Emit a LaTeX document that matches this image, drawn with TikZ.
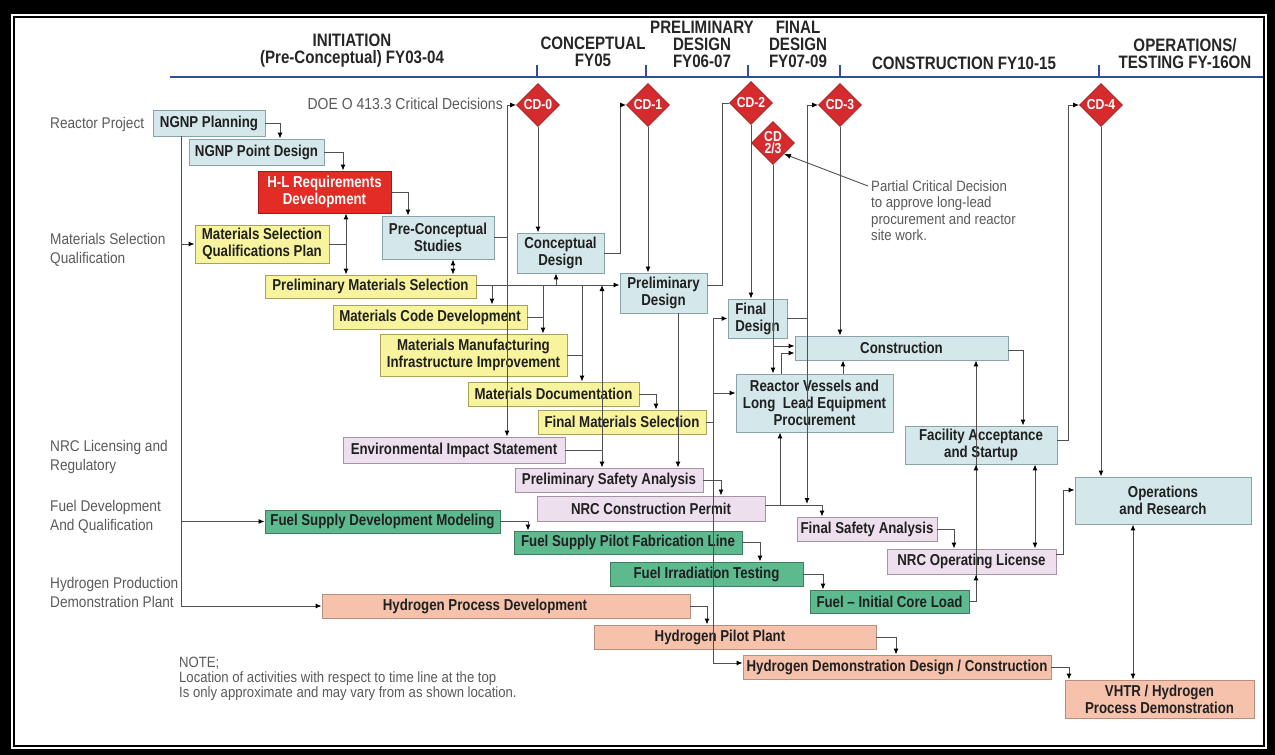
\documentclass[tikz,border=0pt]{standalone}
\usepackage{fontspec}
\usetikzlibrary{arrows.meta,shapes.geometric,calc}
\newfontfamily\nar[FakeStretch=0.88]{Liberation Sans}
\newfontfamily\narb[FakeStretch=0.84]{Liberation Sans}
\definecolor{bfill}{HTML}{D4E7EA}\definecolor{bdraw}{HTML}{8AA3A8}
\definecolor{yfill}{HTML}{F8F49E}\definecolor{ydraw}{HTML}{A8A25A}
\definecolor{pfill}{HTML}{EEDFEE}\definecolor{pdraw}{HTML}{A393A3}
\definecolor{gfill}{HTML}{5DBA8F}\definecolor{gdraw}{HTML}{3F7F60}
\definecolor{sfill}{HTML}{F6C2AC}\definecolor{sdraw}{HTML}{B88E7E}
\definecolor{rfill}{HTML}{E22C25}\definecolor{rdraw}{HTML}{A01A18}
\definecolor{cdred}{HTML}{D52B2E}
\definecolor{txt}{HTML}{202020}
\definecolor{lab}{HTML}{5A5A5A}
\definecolor{tlblue}{HTML}{2E4FA0}
\definecolor{lc}{HTML}{505050}
\newcommand\boxfont{\narb\bfseries\fontsize{15.8}{17}\selectfont}
\newcommand\labfont{\nar\fontsize{15.5}{19}\selectfont}
\newcommand\hdfont{\narb\bfseries\fontsize{18}{17}\selectfont}
\newcommand\bx[7]{\node[#1,minimum width={#5-#3},minimum height={#6-#4}] (#2) at ({(#3+#5)/2},{(#4+#6)/2}) {#7};}
\tikzset{
 bxs/.style={line width=0.9pt, inner sep=1pt, align=center, text=txt, font=\boxfont},
 bluebox/.style={bxs, fill=bfill, draw=bdraw},
 yelbox/.style={bxs, fill=yfill, draw=ydraw},
 pinkbox/.style={bxs, fill=pfill, draw=pdraw},
 grnbox/.style={bxs, fill=gfill, draw=gdraw},
 salbox/.style={bxs, fill=sfill, draw=sdraw},
 redbox/.style={bxs, fill=rfill, draw=rdraw, text=white},
 cdbox/.style={diamond, fill=cdred, draw=cdred!75!black, line width=0.6pt, minimum width=43pt, minimum height=43pt, inner sep=0pt, text=white, align=center, font=\narb\bfseries\fontsize{14.5}{14}\selectfont},
 hd/.style={align=center, text=black!85, font=\hdfont, inner sep=0pt},
 lbl/.style={anchor=west, align=left, text=lab, font=\labfont, inner sep=0pt},
 arr/.style={draw=lc, line width=1pt, -{Latex[length=6pt,width=5pt,color=black]}},
 darr/.style={draw=lc, line width=1pt, {Latex[length=6pt,width=5pt,color=black]}-{Latex[length=6pt,width=5pt,color=black]}},
 ln/.style={draw=lc, line width=1pt},
 tl/.style={draw=tlblue, line width=2.6pt}
}
\begin{document}
\begin{tikzpicture}[x=1pt,y=-1pt]
\useasboundingbox (0,0) rectangle (1275,755);
% frame
\fill[black] (0,0) rectangle (1275,755);
\fill[white] (11,14) rectangle (1267,749);
\draw[line width=2pt] (14,17) rectangle (1264,746);
% timeline
\draw[tl] (170,77) -- (1263,77);
\foreach \x in {537,646,748,840,1099} \draw[draw=tlblue, line width=2pt] (\x,65) -- (\x,77);
\node[hd] (h1) at (352,51) {INITIATION\\(Pre-Conceptual) FY03-04};
\node[hd] (h2) at (593,52) {CONCEPTUAL\\FY05};
\node[hd] (h3) at (702,44) {PRELIMINARY\\DESIGN\\FY06-07};
\node[hd] (h4) at (798,44) {FINAL\\DESIGN\\FY07-09};
\node[hd] (h5) at (964,63) {CONSTRUCTION FY10-15};
\node[hd] (h6) at (1185,54) {OPERATIONS/\\TESTING FY-16ON};
% left labels
\node[lbl] (l1) at (50,124) {Reactor Project};
\node[lbl] (l2) at (50,250) {Materials Selection\\Qualification};
\node[lbl] (l3) at (50,457) {NRC Licensing and\\Regulatory};
\node[lbl] (l4) at (50,517) {Fuel Development\\And Qualification};
\node[lbl] (l5) at (50,592) {Hydrogen Production\\Demonstration Plant};
\node[anchor=east, text=lab, font=\nar\fontsize{15.9}{19}\selectfont, inner sep=0pt] (doe) at (503,104) {DOE O 413.3 Critical Decisions};
\node[anchor=north west, align=left, text=lab, font=\nar\fontsize{15}{16.5}\selectfont, inner sep=0pt] (pcd) at (871,180) {Partial Critical Decision\\to approve long-lead\\procurement and reactor\\site work.};
\node[anchor=north west, align=left, text=lab, font=\nar\fontsize{14.9}{15}\selectfont, inner sep=0pt] (note) at (179,657) {NOTE;\\Location of activities with respect to time line at the top\\Is only approximate and may vary from as shown location.};
% diamonds
\node[cdbox] (cd0) at (538,105) {CD-0};
\node[cdbox] (cd1) at (648,105) {CD-1};
\node[cdbox] (cd2) at (751,103) {CD-2};
\node[cdbox] (cd23) at (773,143) {CD\\[-2pt]2/3};
\node[cdbox] (cd3) at (840,105) {CD-3};
\node[cdbox] (cd4) at (1101,105) {CD-4};
% boxes
\bx{bluebox}{plan}{153}{110}{265}{136}{NGNP Planning}
\bx{bluebox}{pointd}{189}{139}{324}{165}{NGNP Point Design}
\bx{redbox}{hl}{258}{171}{391}{213}{H-L Requirements\\Development}
\bx{yelbox}{msqp}{195}{225}{329}{263}{Materials Selection\\Qualifications Plan}
\bx{bluebox}{pcs}{382}{216}{494}{259}{Pre-Conceptual\\Studies}
\bx{bluebox}{conc}{517}{233}{604}{273}{Conceptual\\Design}
\bx{yelbox}{pms}{265}{275}{476}{298}{Preliminary Materials Selection}
\bx{yelbox}{mcd}{333}{305}{527}{329}{Materials Code Development}
\bx{yelbox}{mmii}{380}{334}{567}{376}{Materials Manufacturing\\Infrastructure Improvement}
\bx{yelbox}{matdoc}{468}{382}{639}{406}{Materials Documentation}
\bx{yelbox}{fms}{538}{410}{706}{434}{Final Materials Selection}
\bx{bluebox}{pd}{620}{273}{707}{313}{Preliminary\\Design}
\bx{bluebox,align=left}{fd}{728}{299}{787}{338}{Final\\Design}
\bx{bluebox}{constr}{795}{336}{1008}{360}{Construction}
\bx{bluebox}{rv}{736}{374}{893}{432}{Reactor Vessels and\\Long\ \ Lead Equipment\\Procurement}
\bx{pinkbox}{eis}{343}{437}{565}{463}{Environmental Impact Statement}
\bx{pinkbox}{psa}{515}{468}{703}{492}{Preliminary Safety Analysis}
\bx{pinkbox}{nrccp}{537}{496}{765}{521}{NRC Construction Permit}
\bx{pinkbox}{fsa}{797}{517}{937}{541}{Final Safety Analysis}
\bx{pinkbox}{nrcol}{887}{549}{1056}{574}{NRC Operating License}
\bx{bluebox}{fas}{905}{426}{1057}{464}{Facility Acceptance\\and Startup}
\bx{bluebox}{onr}{1075}{477}{1251}{524}{Operations\\and Research}
\bx{grnbox}{fsdm}{265}{510}{500}{533}{Fuel Supply Development Modeling}
\bx{grnbox}{fspfl}{514}{531}{742}{554}{Fuel Supply Pilot Fabrication Line}
\bx{grnbox}{fit}{610}{562}{803}{586}{Fuel Irradiation Testing}
\bx{grnbox}{ficl}{810}{590}{969}{613}{Fuel – Initial Core Load}
\bx{salbox}{hpd}{322}{594}{690}{618}{\hspace*{-42pt}Hydrogen Process Development}
\bx{salbox}{hpp}{594}{625}{876}{649}{\hspace*{-30pt}Hydrogen Pilot Plant}
\bx{salbox}{hdd}{743}{655}{1051}{679}{Hydrogen Demonstration Design / Construction}
\bx{salbox}{vhtr}{1065}{680}{1254}{718}{VHTR / Hydrogen\\Process Demonstration}
% bus coordinates
\foreach \x in {181,280,343,346,408,453,492,507,528,543,556,582,602,620,656,678,707,713,721,722,760,780,781,807,822,823,843,896,954,976,1023,1035,1063,1068,1069,1133}
  \coordinate (b\x) at (\x,0);
\foreach \y in {285,346,353,393,440,490,505,554,590}
  \coordinate (L\y) at (0,\y);
% connectors
\draw[arr] (plan.east) -| (pointd.north -| b280);
\draw[arr] (pointd.east) -| (hl.north -| b343);
\draw[arr] (hl.east) -| (pcs.north -| b408);
\draw[arr] (plan.south -| b181) |- (hpd.west);
\draw[arr] (msqp.west -| b181) -- (msqp.west);
\draw[arr] (fsdm.west -| b181) -- (fsdm.west);
\draw[darr] (hl.south -| b346) -- (pms.north -| b346);
\draw[ln] (msqp.east) -- (msqp.east -| b346);
\draw[darr] (pcs.south -| b453) -- (pms.north -| b453);
\draw[ln] (pcs.east) -- (pcs.east -| b507);
\draw[arr] (cd0.west -| b507) -- (eis.north -| b507);
\draw[arr] (cd0.west -| b507) -- (cd0.west);
\draw[arr] (cd0.south) -- (cd0.south |- conc.north);
\draw[arr] (conc.east) -| (cd1.west -| b620) -- (cd1.west);
\draw[arr] (cd1.south) -- (cd1.south |- pd.north);
\draw[ln] ([yshift=8pt]pd.east) -| (cd2.west -| b722) -- (cd2.west);
\draw[arr] (cd2.south) -- (cd2.south |- fd.north);
\draw[arr] (cd23.south) -- (cd23.south |- rv.north);
\draw[arr] (cd23.south |- L346) -- (constr.west |- L346);
\draw[arr] (rv.north -| b781) |- (constr.west |- L353);
\draw[ln] (fd.east) -- (fd.east -| b807);
\draw[arr] (cd3.west -| b807) -- (cd3.west);
\draw[arr] (cd3.west -| b807) -- ([yshift=1pt]b807 |- L505);
\draw[arr] (cd3.south) -- (cd3.south |- constr.north);
\draw[arr] (rv.north -| b843) -- (constr.south -| b843);
\draw[arr] (pms.east |- L285) -- (pd.west |- L285);
\draw[arr] (b492 |- L285) -- (mcd.north -| b492);
\draw[arr] (b556 |- L285) -- (conc.south -| b556);
\draw[arr] (b543 |- L285) -- (mmii.north -| b543);
\draw[arr] (b582 |- L285) -- (matdoc.north -| b582);
\draw[darr] (b602 |- L285) -- (psa.north -| b602);
\draw[ln] (mcd.east) -- (mcd.east -| b543);
\draw[ln] (mmii.east) -- (mmii.east -| b582);
\draw[arr] (matdoc.east) -| (fms.north -| b656);
\draw[ln] (fms.east) -- (fms.east -| b713);
\draw[arr] (fd.west -| b713) -- (fd.west);
\draw[arr] (fd.west -| b713) |- ([yshift=4pt]hdd.west);
\draw[arr] (b713 |- L393) -- (rv.west |- L393);
\draw[ln] (eis.east) -- (eis.east -| b602);
\draw[arr] (pd.south -| b678) -- (psa.north -| b678);
\draw[arr] (psa.east) -| (nrccp.north -| b721);
\draw[arr] (nrccp.east |- L505) -| (fsa.north -| b822);
\draw[arr] (b780 |- L505) -- (rv.south -| b780);
\draw[arr] (fsa.east) -| (nrcol.north -| b954);
\draw[arr] (fsdm.east) -| (fspfl.north -| b528);
\draw[arr] (fspfl.east) -| (fit.north -| b760);
\draw[arr] (fit.east) -| (ficl.north -| b823);
\draw[arr] (ficl.east) -| (constr.south -| b976);
\draw[arr] (b976 |- L590) -- (nrcol.south -| b976);
\draw[arr] (nrcol.north -| b976) -- (fas.south -| b976);
\draw[arr] ([yshift=-2pt]constr.east) -| (fas.north -| b1023);
\draw[darr] (fas.south -| b1035) -- (nrcol.north -| b1035);
\draw[arr] (fas.east |- L440) -| (cd4.west -| b1068) -- (cd4.west);
\draw[arr] (cd4.south) -- (cd4.south |- onr.north);
\draw[arr] (nrcol.east |- L554) -| (b1063 |- L490) -- (onr.west |- L490);
\draw[darr] (onr.south -| b1133) -- (vhtr.north -| b1133);
\draw[arr] (hpd.east) -| (hpp.north -| b707);
\draw[arr] (hpp.east) -| (hdd.north -| b896);
\draw[arr] (hdd.east) -| (vhtr.north -| b1069);
\draw[draw=lc, line width=0.9pt, -{Latex[length=7pt,width=5pt,color=black]}] ([shift={(-3pt,-6pt)}]pcd.north west) -- (cd23.south east);
\end{tikzpicture}
\end{document}
